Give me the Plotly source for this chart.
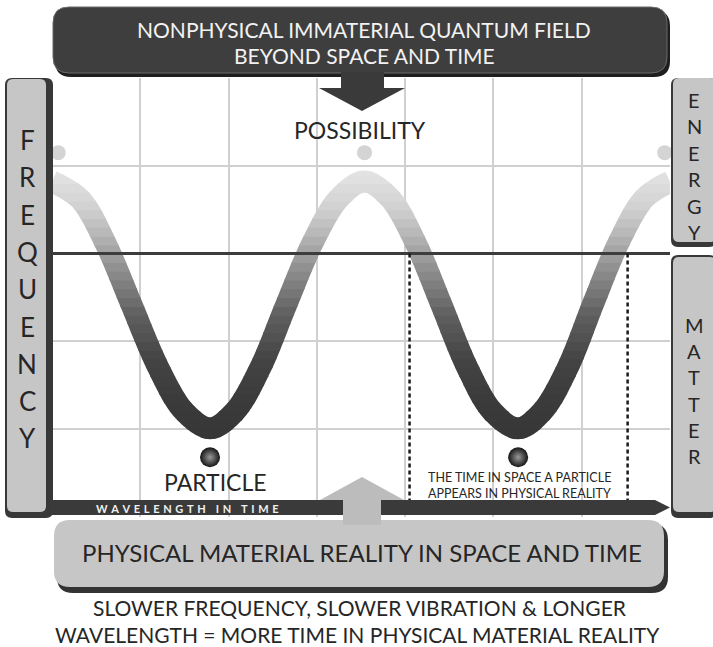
import plotly.graph_objects as go

W, H = 713, 647
FONT = "Lato"

# wave, in grid units (1 unit = one grid square)
wave_x = [0.0, 0.32, 0.61, 0.9, 1.2, 1.49, 1.79, 2.07, 2.36, 2.65, 2.95, 3.25, 3.54,
          3.83, 4.12, 4.41, 4.70, 4.99, 5.28, 5.56, 5.85, 6.13, 6.42, 6.71, 7.0]
wave_y = [3.82, 3.62, 3.11, 2.42, 1.71, 1.21, 1.01, 1.20, 1.70, 2.41, 3.12, 3.63, 3.82,
          3.63, 3.12, 2.42, 1.71, 1.20, 1.01, 1.21, 1.72, 2.43, 3.13, 3.63, 3.82]

peak_x = [0.07, 3.54, 6.94]
peak_y = [4.15, 4.15, 4.15]
particle_x = [1.79, 5.28]
particle_y = [0.68, 0.68]

divider_y = 3.0
window_x = [4.05, 6.52]
window_bottom = 0.19

side_left = "FREQUENCY"
side_top = "ENERGY"
side_bottom = "MATTER"

# plot area in pixels
X0, X1 = 52, 670
Y0, Y1 = 517, 78
XR, YR = (0, 7), (0, 5)


def px(x):
    return x / W


def py(y):
    return 1 - y / H


def pt(x, y):
    return f"{px(x):.5f},{py(y):.5f}"


def rrect(x0, y0, x1, y1, r):
    return ("M" + pt(x0 + r, y0) + " L" + pt(x1 - r, y0) + " Q" + pt(x1, y0) + " " + pt(x1, y0 + r)
            + " L" + pt(x1, y1 - r) + " Q" + pt(x1, y1) + " " + pt(x1 - r, y1)
            + " L" + pt(x0 + r, y1) + " Q" + pt(x0, y1) + " " + pt(x0, y1 - r)
            + " L" + pt(x0, y0 + r) + " Q" + pt(x0, y0) + " " + pt(x0 + r, y0) + " Z")


def poly(points):
    return "M" + " L".join(pt(x, y) for x, y in points) + " Z"


def shape_path(path, fill, line=None, layer="above"):
    return dict(type="path", xref="paper", yref="paper", path=path, fillcolor=fill,
                line=dict(color=line or fill, width=1 if line else 0), layer=layer)


def ann(text, x, y, size, color="#262626", bold=False):
    if bold:
        text = "<b>" + text + "</b>"
    return dict(text=text, x=px(x), y=py(y), xref="paper", yref="paper", showarrow=False,
                xanchor="center", yanchor="middle", font=dict(family=FONT, size=size, color=color))


fig = go.Figure()

dom_x = [px(X0), px(X1)]
dom_y = [py(Y0), py(Y1)]
unit_y = (Y0 - Y1) / (YR[1] - YR[0])  # pixels per y unit

fig.update_layout(
    xaxis=dict(domain=dom_x, range=XR, showgrid=True, gridcolor="#d0d0d0", gridwidth=1.5,
               tick0=0, dtick=1, showticklabels=False, zeroline=False, ticks="", fixedrange=True),
    yaxis=dict(domain=dom_y, range=YR, showgrid=True, gridcolor="#d0d0d0", gridwidth=1.5,
               tick0=0, dtick=1, showticklabels=False, zeroline=False, ticks="", fixedrange=True),
    xaxis2=dict(domain=dom_x, range=XR, visible=False, anchor="y2", fixedrange=True),
)

# wave drawn once per horizontal band so the stroke fades from dark (bottom) to light (top)
stops = [(0.8, 54), (1.3, 58), (1.8, 68), (2.3, 95), (2.8, 140), (3.2, 180), (3.5, 208), (3.9, 226)]


def shade(y):
    for (ya, ca), (yb, cb) in zip(stops, stops[1:]):
        if y <= yb:
            t = (y - ya) / (yb - ya)
            c = round(ca + (cb - ca) * max(0, t))
            return f"rgb({c},{c},{c})"
    c = stops[-1][1]
    return f"rgb({c},{c},{c})"


eps = 0.6 / unit_y
n_bands = 34
for k in range(n_bands):
    ya = 0.8 + k * 0.1
    yb = ya + 0.1
    lo, hi = ya - eps, yb + eps
    dom = [dom_y[0] + (lo - YR[0]) / (YR[1] - YR[0]) * (dom_y[1] - dom_y[0]),
           dom_y[0] + (hi - YR[0]) / (YR[1] - YR[0]) * (dom_y[1] - dom_y[0])]
    name = f"yaxis{k + 2}"
    fig.layout[name] = dict(domain=dom, range=[lo, hi], visible=False, anchor="x2", fixedrange=True)
    fig.add_trace(go.Scatter(x=wave_x, y=wave_y, mode="lines", xaxis="x2", yaxis=f"y{k + 2}",
                             line=dict(color=shade((ya + yb) / 2), width=22, shape="spline", smoothing=1.0),
                             hoverinfo="skip"))

fig.add_trace(go.Scatter(x=peak_x, y=peak_y, mode="markers", cliponaxis=False,
                         marker=dict(size=15, color="#d4d4d4", line=dict(width=0)), hoverinfo="skip"))
fig.add_trace(go.Scatter(x=particle_x, y=particle_y, mode="markers", cliponaxis=False,
                         marker=dict(size=20, color="#141414", line=dict(width=0),
                                     gradient=dict(type="radial", color="#9a9a9a")),
                         hoverinfo="skip"))

shapes = []
# divider between energy and matter
shapes.append(dict(type="line", xref="x", yref="y", x0=0, x1=7.03, y0=divider_y, y1=divider_y,
                   line=dict(color="#3c3c3c", width=3), layer="above"))
for wx in window_x:
    shapes.append(dict(type="line", xref="x", yref="y", x0=wx, x1=wx, y0=divider_y, y1=window_bottom,
                       line=dict(color="#1a1a1a", width=2.5, dash="4px,3px"), layer="above"))

# top banner and its arrow
shapes.append(shape_path(rrect(55, 10, 670, 77, 16), "#1f1f1f"))
shapes.append(shape_path(rrect(53, 7, 667, 73, 16), "#3e3e3e", "#6a6a6a"))
shapes.append(shape_path(poly([(341, 72), (384, 72), (384, 88), (405, 88), (362, 111),
                               (319, 88), (341, 88)]), "#3a3a3a"))

# left panel
shapes.append(shape_path(rrect(5, 78, 53, 518, 7), "#383838"))
shapes.append(shape_path(rrect(7, 79, 46, 512, 6), "#c6c6c6"))
# right panels
shapes.append(shape_path(rrect(671, 78, 716, 247, 7), "#383838"))
shapes.append(shape_path(rrect(673, 78, 716, 242, 6), "#c6c6c6"))
shapes.append(shape_path(rrect(671, 255, 716, 518, 7), "#383838"))
shapes.append(shape_path(rrect(673, 257, 716, 512, 6), "#c6c6c6"))

# wavelength bar with its arrow head
shapes.append(shape_path(poly([(50, 500), (655, 500), (670, 507.5), (655, 515), (50, 515)]), "#3a3a3a"))

# bottom banner and upward arrow
shapes.append(shape_path(rrect(57, 524, 668, 593, 16), "#333333"))
shapes.append(shape_path(rrect(54, 520, 664, 587, 16), "#c6c6c6"))
shapes.append(shape_path(poly([(343, 525), (343, 500), (320, 500), (362, 477), (404, 500),
                               (381, 500), (381, 525)]), "#bcbcbc"))

annotations = [
    ann("NONPHYSICAL IMMATERIAL QUANTUM FIELD", 364, 29, 21, "#f2f2f2"),
    ann("BEYOND SPACE AND TIME", 364, 56, 21, "#f2f2f2"),
    ann("POSSIBILITY", 360, 130, 23),
    ann("PARTICLE", 215, 482, 23),
    ann("THE TIME IN SPACE A PARTICLE", 519, 477, 12.5),
    ann("APPEARS IN PHYSICAL REALITY", 519, 493, 12.5),
    ann("\u2004".join("WAVELENGTH IN TIME"), 187, 508, 11, "#f0f0f0", bold=True),
    ann("PHYSICAL MATERIAL REALITY IN SPACE AND TIME", 362, 552, 24),
    ann("SLOWER FREQUENCY, SLOWER VIBRATION &amp; LONGER", 360, 607, 21),
    ann("WAVELENGTH = MORE TIME IN PHYSICAL MATERIAL REALITY", 357, 634, 21),
]
for i, ch in enumerate(side_left):
    annotations.append(ann(ch, 27, 140 + i * 37.3, 26))
for i, ch in enumerate(side_top):
    annotations.append(ann(ch, 694, 100 + i * 26.4, 20))
for i, ch in enumerate(side_bottom):
    annotations.append(ann(ch, 694, 325 + i * 26.2, 20))

fig.update_layout(
    width=W, height=H, margin=dict(l=0, r=0, t=0, b=0),
    paper_bgcolor="white", plot_bgcolor="rgba(0,0,0,0)",
    showlegend=False, shapes=shapes, annotations=annotations,
)

fig.write_html("out.html", config={"displayModeBar": False},
               post_script="document.body.style.margin='0px';")
